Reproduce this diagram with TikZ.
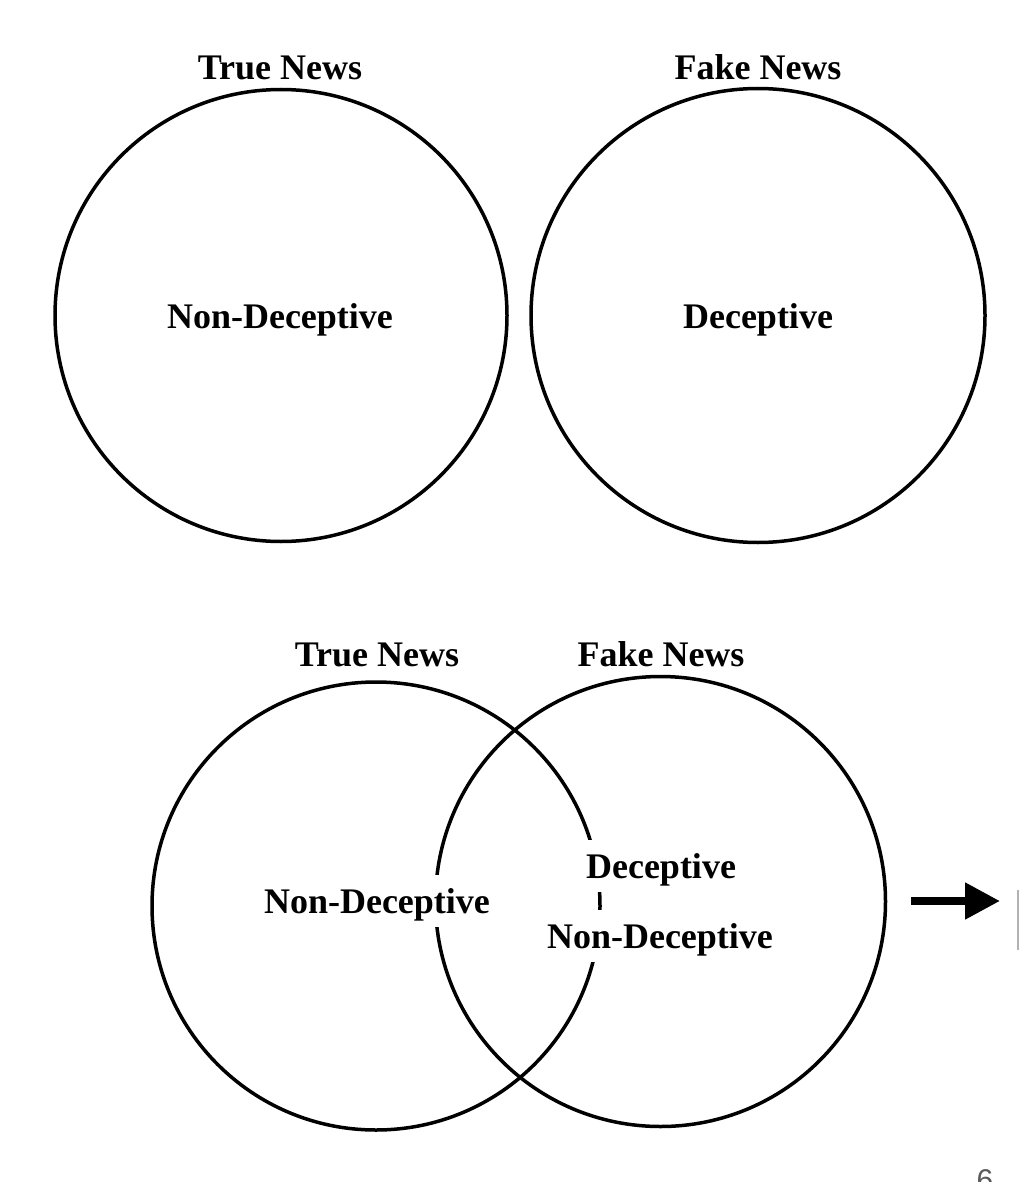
\documentclass[tikz,border=0pt]{standalone}
\usepackage{fontspec}
\setmainfont{Liberation Serif}
\setsansfont{Liberation Sans}
\usetikzlibrary{arrows.meta}
\begin{document}
\begin{tikzpicture}[x=1pt,y=-1pt,
  ring/.style={draw=black, line width=3.5pt, circle, inner sep=0pt, outer sep=0pt},
  title/.style={font=\bfseries\fontsize{36}{40}\selectfont, inner sep=0pt, anchor=base},
  label/.style={font=\bfseries\fontsize{36}{40}\selectfont, fill=white, text height=32pt, text depth=8pt, inner xsep=6pt, inner ysep=6pt, anchor=base},
  pointer/.style={line width=8pt, -{Triangle[length=35pt,width=35pt]}}
]
\useasboundingbox[fill=white] (0,0) rectangle (1020,1182);

% top row
\node[ring, minimum size=452pt] (tc) at (281,315.5) {};
\node[ring, minimum size=454pt] (fc) at (758,315.5) {};
\node[title] (tt) at (280,80) {True News};
\node[title] (ft) at (758,80) {Fake News};
\node[label] (tl) at (280,328) {Non-Deceptive};
\node[label] (fl) at (758,328) {Deceptive};

% bottom row
\node[ring, minimum size=448pt] (tc2) at (376,906) {};
\node[ring, minimum size=450pt] (fc2) at (660.5,901.5) {};
\node[title] (tt2) at (377,666) {True News};
\node[title] (ft2) at (661,666) {Fake News};
\node[label] (tl2) at (377,913) {Non-Deceptive};
\node[label] (dl2) at (661,878) {Deceptive};
\node[label] (nl2) at (660,948) {Non-Deceptive};

% arrow
\coordinate (a1) at (911,901);
\coordinate (a2) at (1000,901);
\draw[pointer] (a1) -- (a2);

% cut-off element at right edge
\coordinate (e1) at (1018,890);
\coordinate (e2) at (1018,950);
\draw[line width=2pt, black!30] (e1) -- (e2);

% page number (cut off at the page edge, as in the reference)
\node[font=\sffamily\fontsize{30}{34}\selectfont, text=black!65, inner sep=0pt, anchor=base] (pg) at (985,1190) {6};
\end{tikzpicture}
\end{document}
